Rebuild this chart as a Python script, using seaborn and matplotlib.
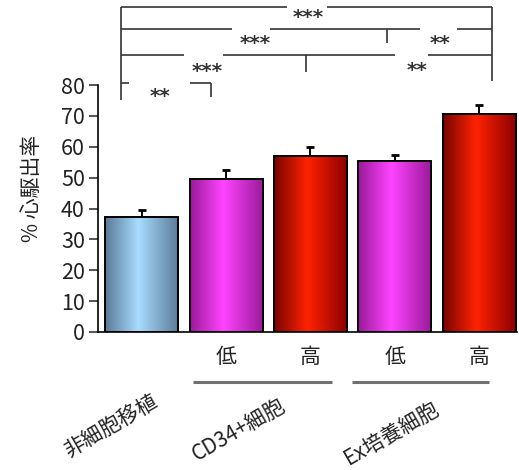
import numpy as np
import pandas as pd
import matplotlib
matplotlib.use("Agg")
import matplotlib.pyplot as plt
from matplotlib.colors import LinearSegmentedColormap
import seaborn as sns

# ---- data ----
categories = ["非細胞移植", "CD34+低", "CD34+高", "Ex低", "Ex高"]
values = [37.2, 49.5, 57.0, 55.3, 70.5]
errors = [2.3, 2.9, 3.0, 2.0, 2.9]
tick_labels = ["", "低", "高", "低", "高"]
group_labels = ["非細胞移植", "CD34+細胞", "Ex培養細胞"]
y_ticks = [0, 10, 20, 30, 40, 50, 60, 70, 80]
ylabel = "% 心駆出率"

sns.set_style("white")
plt.rcParams["font.family"] = ["Noto Sans CJK JP", "DejaVu Sans"]

df = pd.DataFrame({"cat": categories, "val": values})

fig = plt.figure(figsize=(5.19, 4.70), dpi=100)
ax = fig.add_axes([98/519, 1-332/470, 419/519, 247/470])

base_cols = ["#8fb8dc", "#e040e0", "#ee2000", "#e040e0", "#ee2000"]
sns.barplot(data=df, x="cat", y="val", hue="cat", palette=base_cols, legend=False,
            errorbar=None, width=0.866, edgecolor="black", linewidth=1.4, ax=ax, zorder=2)

# gradient fills clipped to bars
grad_stops = [
    ["#5a7896", "#a8dcff", "#5c7a98"],
    ["#9a1a9a", "#ff44ff", "#9a1a9a"],
    ["#780400", "#ff2200", "#8a0000"],
    ["#9a1a9a", "#ff44ff", "#9a1a9a"],
    ["#780400", "#ff2200", "#8a0000"],
]
grad = np.linspace(0, 1, 256).reshape(1, -1)
for patch, stops in zip(ax.patches, grad_stops):
    cmap = LinearSegmentedColormap.from_list("g", list(zip([0, 0.45, 1], stops)))
    x0, y0 = patch.get_x(), patch.get_y()
    w, h = patch.get_width(), patch.get_height()
    im = ax.imshow(grad, cmap=cmap, extent=[x0, x0 + w, y0, y0 + h], aspect="auto", zorder=1.5)
    im.set_clip_path(patch)
    patch.set_facecolor("none")
    patch.set_zorder(3)

xs = np.arange(len(values))
ax.errorbar(xs, values, yerr=[np.zeros(len(errors)), errors], fmt="none", ecolor="black",
            elinewidth=1.4, capsize=2.6, capthick=2.0, zorder=1)

ax.set_xlim(-0.52, 4.45)
ax.set_ylim(0, 80)
ax.set_yticks(y_ticks)
ax.set_yticklabels([str(t) for t in y_ticks], fontsize=15.5, color="#222222")
ax.set_xticks(xs)
ax.set_xticklabels(tick_labels, fontsize=15, color="#222222")
ax.tick_params(axis="x", length=0, pad=10)
ax.tick_params(axis="y", direction="out", length=6.5, width=1.1, pad=3, left=True)
ax.set_xlabel("")
ax.set_ylabel("")
for s in ["top", "right"]:
    ax.spines[s].set_visible(False)
for s in ["left", "bottom"]:
    ax.spines[s].set_linewidth(1.2)
    ax.spines[s].set_color("black")

ax.text(-0.157, 0.583, ylabel, transform=ax.transAxes, rotation=90, ha="center", va="center",
        fontsize=15, color="#222222")

# group lines and labels
gtrans = ax.get_xaxis_transform()
for (a, b) in [(0.605, 2.255), (2.493, 4.119)]:
    ax.plot([a, b], [-0.2024, -0.2024], transform=gtrans, color="#707070", lw=2.2,
            clip_on=False, solid_capstyle="butt")
for (gx, gy), lab in zip([(-0.36, -0.385), (1.15, -0.397), (2.97, -0.409)], group_labels):
    ax.text(gx, gy, lab, transform=gtrans, rotation=30, ha="center", va="center",
            rotation_mode="anchor", fontsize=15, color="#222222")

# significance brackets (layout)
lc = "#333333"
lw = 1.2
segs = [
    # top row
    ([-0.249, -0.249], [75.1, 105.3]),
    ([-0.249, 1.721], [105.3, 105.3]),
    ([2.196, 4.154], [105.3, 105.3]),
    ([4.154, 4.154], [105.3, 81.4]),
    # second row
    ([-0.249, 1.068], [98.0, 98.0]),
    ([1.519, 3.300], [98.0, 98.0]),
    ([3.739, 4.154], [98.0, 98.0]),
    ([2.908, 2.908], [98.0, 93.5]),
    # third row
    ([-0.249, 0.499], [89.7, 89.7]),
    ([0.961, 3.003], [89.7, 89.7]),
    ([3.395, 4.154], [89.7, 89.7]),
    ([1.947, 1.947], [89.7, 84.3]),
    # bottom bracket
    ([-0.249, -0.154], [80.5, 80.5]),
    ([0.570, 0.819], [80.5, 80.5]),
    ([0.819, 0.819], [80.5, 76.2]),
]
for xx, yy in segs:
    ax.plot(xx, yy, color=lc, lw=lw, clip_on=False, solid_capstyle="butt")

stars = [
    (1.970, 101.8, "***"),
    (1.341, 93.4, "***"),
    (3.537, 93.4, "**"),
    (0.772, 84.3, "***"),
    (3.264, 84.7, "**"),
    (0.214, 76.3, "**"),
]
for sx, sy, st in stars:
    ax.text(sx, sy, st, ha="center", va="center", fontsize=14.5, color="#333333",
            family=["DejaVu Sans"], fontweight="bold", clip_on=False)

fig.savefig("out.png", dpi=100)
